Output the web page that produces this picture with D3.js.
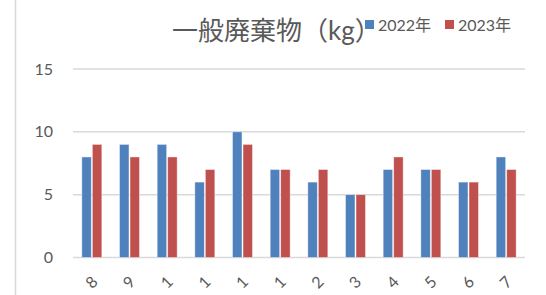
<!DOCTYPE html>
<html>
<head>
<meta charset="utf-8">
<script src="https://cdn.jsdelivr.net/npm/d3@7.9.0/dist/d3.min.js"></script>
<style>
  body { margin: 0; background: #fff; }
  svg { display: block; }
  text { font-family: Lato, "Noto Sans CJK JP", sans-serif; fill: #595959; }
</style>
</head>
<body>
<svg id="chart" width="546" height="295"></svg>
<script>
// data
const months = ["8", "9", "1", "1", "1", "1", "2", "3", "4", "5", "6", "7"];
const series = ["2022年", "2023年"];
const values2022 = [8, 9, 9, 6, 10, 7, 6, 5, 7, 7, 6, 8];
const values2023 = [9, 8, 8, 7, 9, 7, 7, 5, 8, 7, 6, 7];
const yTicks = [0, 5, 10, 15];
const colors = ["#4F81BD", "#C0504D"];

const svg = d3.select("#chart");

// left border of the chart box
svg.append("line")
  .attr("x1", 15.5).attr("x2", 15.5)
  .attr("y1", 0).attr("y2", 295)
  .attr("stroke", "#d9d9d9").attr("stroke-width", 1.5);

const plotLeft = 73, plotRight = 525, plotTop = 69, plotBottom = 257.5;

const y = d3.scaleLinear().domain([0, 15]).range([plotBottom, plotTop]);
const x0 = d3.scaleBand()
  .domain(d3.range(months.length))
  .range([plotLeft, plotRight])
  .paddingInner(0.47)
  .paddingOuter(0.235);
const x1 = d3.scaleBand()
  .domain(series)
  .range([0, x0.bandwidth()])
  .paddingInner(0.1);

// gridlines
svg.append("g")
  .selectAll("line")
  .data(yTicks)
  .join("line")
  .attr("x1", plotLeft).attr("x2", plotRight)
  .attr("y1", d => y(d)).attr("y2", d => y(d))
  .attr("stroke", "#d9d9d9").attr("stroke-width", 1.5);

// y axis labels
const yAxis = svg.append("g")
  .attr("transform", `translate(${plotLeft - 20},0)`)
  .call(d3.axisLeft(y).tickValues(yTicks).tickSize(0).tickPadding(0));
yAxis.select(".domain").remove();
yAxis.selectAll("text")
  .attr("font-size", 16)
  .attr("font-family", "Lato, sans-serif")
  .attr("fill", "#595959");

// bars
const rows = months.map((m, i) => ({ i, vals: [values2022[i], values2023[i]] }));
const groups = svg.append("g")
  .selectAll("g")
  .data(rows)
  .join("g")
  .attr("transform", d => `translate(${x0(d.i)},0)`);

groups.selectAll("rect")
  .data(d => d.vals.map((v, s) => ({ v, s })))
  .join("rect")
  .attr("x", d => x1(series[d.s]))
  .attr("width", x1.bandwidth())
  .attr("y", d => y(d.v))
  .attr("height", d => y(0) - y(d.v))
  .attr("fill", d => colors[d.s])
  .attr("stroke", "#fff")
  .attr("stroke-opacity", 0.5)
  .attr("stroke-width", 0.8);

// x axis labels, rotated
const xAxis = svg.append("g")
  .attr("transform", `translate(0,${plotBottom})`)
  .call(d3.axisBottom(x0).tickFormat(i => months[i]).tickSize(0).tickPadding(0));
xAxis.select(".domain").remove();
xAxis.selectAll("text")
  .attr("font-size", 16)
  .attr("font-family", "Lato, sans-serif")
  .attr("fill", "#595959")
  .attr("text-anchor", "middle")
  .attr("dy", null)
  .attr("y", null)
  .attr("transform", "translate(-1,24) rotate(-45)")
  .attr("dominant-baseline", "central");

// title
svg.append("text")
  .attr("x", 172)
  .attr("y", 40)
  .attr("font-size", 26)
  .attr("font-family", "'Noto Sans CJK JP', sans-serif")
  .attr("fill", "#595959")
  .text("一般廃棄物（kg）");

// legend
const legend = svg.append("g")
  .selectAll("g")
  .data(series)
  .join("g")
  .attr("transform", (d, i) => `translate(${365 + i * 80},0)`);
legend.append("rect")
  .attr("x", 0).attr("y", 20)
  .attr("width", 9).attr("height", 9)
  .attr("fill", (d, i) => colors[i]);
legend.append("text")
  .attr("x", 13).attr("y", 31)
  .attr("font-size", 16)
  .attr("fill", "#595959")
  .text(d => d);
</script>
</body>
</html>
